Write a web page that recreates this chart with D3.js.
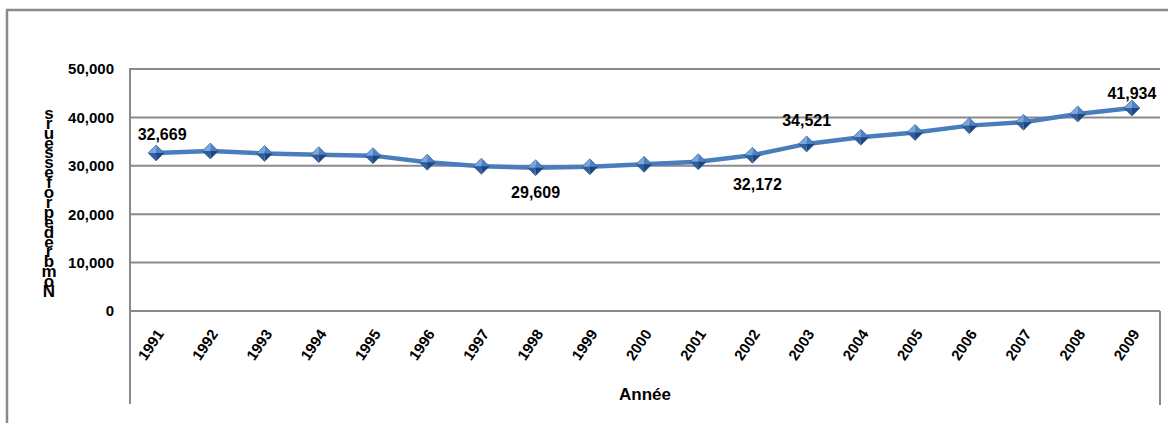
<!DOCTYPE html>
<html>
<head>
<meta charset="utf-8">
<script src="https://cdn.jsdelivr.net/npm/d3@7"></script>
<style>
  html, body { margin: 0; padding: 0; background: #fff; }
  svg { display: block; }
</style>
</head>
<body>
<svg id="chart" width="1168" height="423"></svg>
<script>
// Staff count per year
const years = ["1991","1992","1993","1994","1995","1996","1997","1998","1999","2000",
               "2001","2002","2003","2004","2005","2006","2007","2008","2009"];
const counts = [32669, 33050, 32540, 32300, 32100, 30750, 29900, 29609, 29800, 30300,
                30850, 32172, 34521, 35900, 36900, 38300, 39000, 40700, 41934];
const yTicks = [0, 10000, 20000, 30000, 40000, 50000];
// Points that carry a value label, and where the label sits
const labelled = ["1991", "1998", "2002", "2003", "2009"];
const labelPlace = ["above", "below", "below", "above", "above"];

const yTitle = "Nombre de professeurs";
const xTitle = "Année";

const W = 1168, H = 423;
const plot = { left: 129, right: 1159, top: 69, bottom: 311 };
const gridColor = "#8a8a8a";
const lineColor = "#4a7ebb";
const font = "'Liberation Sans', Arial, sans-serif";

const svg = d3.select("#chart");

// outer frame (top and left edges)
svg.append("path")
  .attr("d", `M7,${H} L7,10 L${W},10`)
  .attr("fill", "none").attr("stroke", gridColor).attr("stroke-width", 2.5);

const x = d3.scaleBand().domain(years).range([plot.left, plot.right]);
const y = d3.scaleLinear().domain([0, 50000]).range([plot.bottom, plot.top]);
const cx = d => x(d) + x.bandwidth() / 2;

// horizontal gridlines
svg.append("g").selectAll("line").data(yTicks).join("line")
  .attr("x1", plot.left).attr("x2", plot.right + 1)
  .attr("y1", d => y(d)).attr("y2", d => y(d))
  .attr("stroke", gridColor).attr("stroke-width", 2);

// vertical axis line, running down through the category area
svg.append("line")
  .attr("x1", plot.left + 1).attr("x2", plot.left + 1)
  .attr("y1", plot.top - 1).attr("y2", 404)
  .attr("stroke", gridColor).attr("stroke-width", 2);
svg.append("line")
  .attr("x1", plot.right + 1).attr("x2", plot.right + 1)
  .attr("y1", plot.bottom).attr("y2", 405)
  .attr("stroke", gridColor).attr("stroke-width", 2);

// y axis labels
const yAxis = d3.axisLeft(y).tickValues(yTicks).tickFormat(d3.format(",")).tickSize(0).tickPadding(15);
const ga = svg.append("g").attr("transform", `translate(${plot.left},0)`).call(yAxis);
ga.select(".domain").remove();
ga.selectAll("text")
  .attr("font-family", font)
  .attr("font-weight", "bold").attr("font-size", 15).attr("fill", "#000");

// x tick labels, rotated
svg.append("g").selectAll("text").data(years).join("text")
  .attr("transform", d => `translate(${cx(d) + 4},${331}) rotate(-56)`)
  .attr("text-anchor", "end")
  .attr("dy", "0.35em")
  .attr("font-family", font)
  .attr("font-weight", "bold").attr("font-size", 15)
  .text(d => d);

// axis titles
svg.append("text")
  .attr("x", (plot.left + plot.right) / 2 + 1).attr("y", 400)
  .attr("text-anchor", "middle")
  .attr("font-family", font)
  .attr("font-weight", "bold").attr("font-size", 17)
  .text(xTitle);

// vertical title: upright letters stacked, first letter at the bottom
const letters = Array.from(yTitle).filter(c => c !== " ");
const ty = svg.append("text")
  .attr("font-family", font)
  .attr("font-weight", "bold").attr("font-size", 17)
  .attr("text-anchor", "middle");
letters.forEach((c, i) => {
  ty.append("tspan").attr("x", 49).attr("y", 297 - i * 9.9).text(c);
});

// series line
const line = d3.line().x((d, i) => cx(years[i])).y(d => y(d));
svg.append("path").datum(counts)
  .attr("d", line)
  .attr("fill", "none").attr("stroke", lineColor)
  .attr("stroke-width", 4.5).attr("stroke-linejoin", "round");

// bevelled diamond markers: four facets around the centre
const r = 8;
const facets = [
  { pts: [[0, -r], [-r, 0], [0, 0]], fill: "#7aa6dc" },
  { pts: [[0, -r], [r, 0], [0, 0]], fill: "#4f82c4" },
  { pts: [[-r, 0], [0, r], [0, 0]], fill: "#2f5f9e" },
  { pts: [[r, 0], [0, r], [0, 0]], fill: "#1d4680" }
];
const mk = svg.append("g").selectAll("g").data(counts).join("g")
  .attr("transform", (d, i) => `translate(${cx(years[i])},${y(d)})`);
facets.forEach(f => {
  mk.append("path")
    .attr("d", "M" + f.pts.map(p => p.join(",")).join("L") + "Z")
    .attr("fill", f.fill);
});
mk.append("path")
  .attr("d", `M0,${-r}L${r},0L0,${r}L${-r},0Z`)
  .attr("fill", "none").attr("stroke", "#24508c").attr("stroke-width", 0.6);

// value labels
const fmt = d3.format(",");
svg.append("g").selectAll("text").data(labelled).join("text")
  .attr("x", (d, i) => cx(d) + (i === 0 ? 6 : (i === 2 ? 5 : 0)))
  .attr("y", (d, i) => {
    const v = counts[years.indexOf(d)];
    if (labelPlace[i] === "below") return y(v) + (i === 2 ? 35 : 30);
    return y(v) - (i === 4 ? 9 : (i === 3 ? 18 : 13));
  })
  .attr("text-anchor", "middle")
  .attr("font-family", font)
  .attr("font-weight", "bold").attr("font-size", 16)
  .text(d => fmt(counts[years.indexOf(d)]));
</script>
</body>
</html>
